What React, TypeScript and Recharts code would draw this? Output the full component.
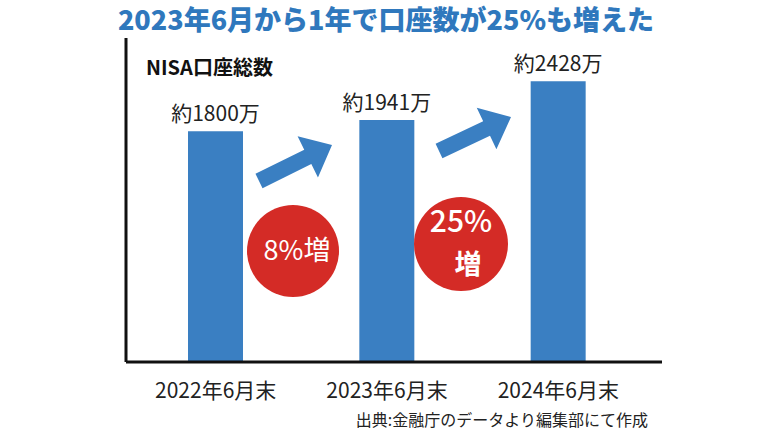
import { BarChart, Bar, XAxis, YAxis, LabelList } from "recharts";

const categories = ["2022年6月末", "2023年6月末", "2024年6月末"];
const accounts = [1800, 1941, 2428]; // 万口座
const growthLabels = ["8%増", "25%増"];

const BLUE = "#3a7fc2";
const RED = "#d42b26";
const FONT = "'Noto Sans CJK JP', 'Noto Sans', sans-serif";

// the original is not drawn to scale, so the axis starts well below zero
const Y_MIN = -1100;
const Y_MAX = 2970;

const data = categories.map((name, i) => ({ name, value: accounts[i] }));

// polygon for a thick arrow from tail to tip
function arrowPoints(
  tx: number,
  ty: number,
  px: number,
  py: number,
  shaft: number,
  head: number,
  headLen: number
) {
  const dx = px - tx;
  const dy = py - ty;
  const len = Math.sqrt(dx * dx + dy * dy);
  const ux = dx / len;
  const uy = dy / len;
  const nx = -uy;
  const ny = ux;
  const bx = px - ux * headLen;
  const by = py - uy * headLen;
  const pts = [
    [tx + (nx * shaft) / 2, ty + (ny * shaft) / 2],
    [bx + (nx * shaft) / 2, by + (ny * shaft) / 2],
    [bx + (nx * head) / 2, by + (ny * head) / 2],
    [px, py],
    [bx - (nx * head) / 2, by - (ny * head) / 2],
    [bx - (nx * shaft) / 2, by - (ny * shaft) / 2],
    [tx - (nx * shaft) / 2, ty - (ny * shaft) / 2],
  ];
  return pts.map((p) => p.join(",")).join(" ");
}

const CategoryTick = (props: any) => {
  const { x, y, payload } = props;
  return (
    <text
      x={x}
      y={y + 28}
      textAnchor="middle"
      fontSize={21}
      fontFamily={FONT}
      fill="#222"
    >
      {payload.value}
    </text>
  );
};

export default function App() {
  return (
    <div
      style={{
        position: "absolute",
        left: 0,
        top: 0,
        width: 770,
        height: 433,
        background: "#fff",
      }}
    >
      <BarChart
        width={770}
        height={433}
        data={data}
        margin={{ top: 38, right: 108, left: 116, bottom: 0 }}
      >
        <XAxis
          dataKey="name"
          height={71}
          padding={{ left: 4, right: 18 }}
          tickLine={false}
          axisLine={{ stroke: "#111", strokeWidth: 3 }}
          tick={<CategoryTick />}
          interval={0}
        />
        <YAxis
          type="number"
          domain={[Y_MIN, Y_MAX]}
          allowDataOverflow
          width={10}
          tick={false}
          tickLine={false}
          axisLine={{ stroke: "#111", strokeWidth: 3 }}
        />
        <Bar
          dataKey={(d: any) => [Y_MIN, d.value]}
          fill={BLUE}
          barSize={55}
          isAnimationActive={false}
        >
          <LabelList
            dataKey="value"
            position="top"
            offset={10}
            formatter={(v: any) => `約${v}万`}
            style={{ fontSize: 21, fontFamily: FONT, fill: "#222" }}
          />
        </Bar>
      </BarChart>

      <svg
        width={770}
        height={433}
        style={{ position: "absolute", left: 0, top: 0, pointerEvents: "none" }}
      >
        <text
          x={386}
          y={30}
          textAnchor="middle"
          fontSize={27}
          fontWeight={900}
          fontFamily={FONT}
          fill="#2f78bd"
        >
          2023年6月から1年で口座数が25%も増えた
        </text>
        <text
          x={146}
          y={75}
          fontSize={20}
          fontWeight={700}
          fontFamily={FONT}
          fill="#111"
        >
          NISA口座総数
        </text>

        <polygon points={arrowPoints(259, 181, 332, 145, 16, 46, 27)} fill={BLUE} />
        <polygon points={arrowPoints(439, 151, 511, 117, 16, 46, 27)} fill={BLUE} />

        <circle cx={293} cy={251} r={46} fill={RED} />
        <text
          x={297}
          y={260}
          textAnchor="middle"
          fontSize={27}
          fontFamily={FONT}
          fill="#fff"
        >
          {growthLabels[0]}
        </text>

        <circle cx={461} cy={244} r={47} fill={RED} />
        <text
          x={461}
          y={232}
          textAnchor="middle"
          fontSize={30}
          fontWeight={500}
          fontFamily={FONT}
          fill="#fff"
        >
          {growthLabels[1].replace("増", "")}
        </text>
        <text
          x={468}
          y={274}
          textAnchor="middle"
          fontSize={27}
          fontWeight={700}
          fontFamily={FONT}
          fill="#fff"
        >
          増
        </text>

        <text
          x={648}
          y={426}
          textAnchor="end"
          fontSize={16}
          fontFamily={FONT}
          fill="#222"
        >
          出典:金融庁のデータより編集部にて作成
        </text>
      </svg>
    </div>
  );
}
